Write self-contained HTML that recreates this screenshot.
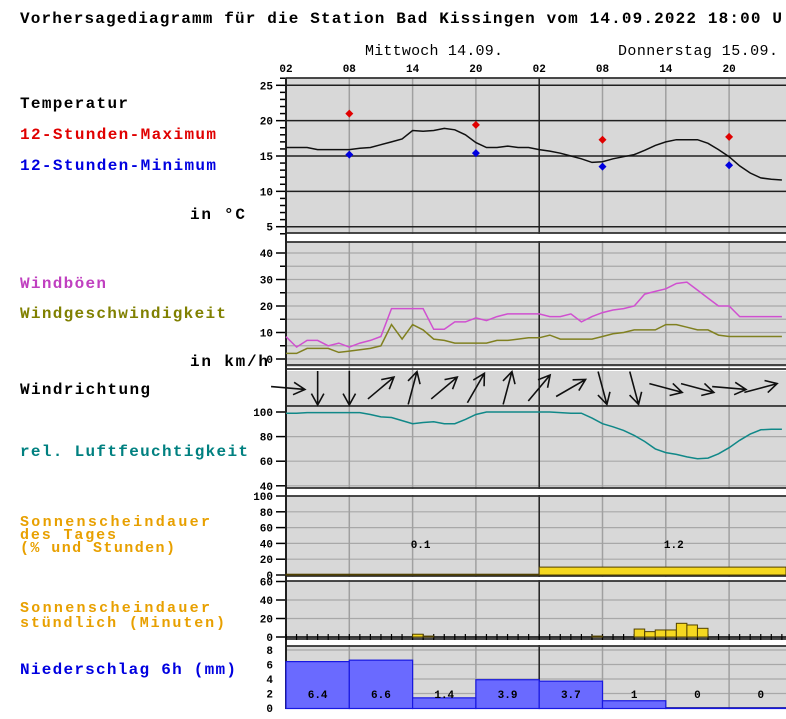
<!DOCTYPE html>
<html><head><meta charset="utf-8"><style>
html,body{margin:0;padding:0;background:#fff;}
svg{display:block;font-family:"Liberation Mono",monospace;}
</style></head><body>
<svg id="chart" width="786" height="719" viewBox="0 0 786 719" xmlns="http://www.w3.org/2000/svg">
<text x="20" y="23" font-size="16" font-weight="bold" textLength="762" lengthAdjust="spacing">Vorhersagediagramm für die Station Bad Kissingen vom 14.09.2022 18:00 U</text>
<text x="365" y="55" font-size="15" textLength="138" lengthAdjust="spacing">Mittwoch 14.09.</text>
<text x="618" y="55" font-size="15" textLength="160" lengthAdjust="spacing">Donnerstag 15.09.</text>
<g font-weight="bold" font-size="16">
<text x="20" y="108" textLength="108" lengthAdjust="spacing">Temperatur</text>
<text x="20" y="139" fill="#e00000" textLength="196" lengthAdjust="spacing">12-Stunden-Maximum</text>
<text x="20" y="170" fill="#0000e0" textLength="196" lengthAdjust="spacing">12-Stunden-Minimum</text>
<text x="190" y="219" textLength="55" lengthAdjust="spacing">in °C</text>
<text x="20" y="288" fill="#c040c0" textLength="86" lengthAdjust="spacing">Windböen</text>
<text x="20" y="318" fill="#808000" textLength="206" lengthAdjust="spacing">Windgeschwindigkeit</text>
<text x="190" y="366" textLength="78" lengthAdjust="spacing">in km/h</text>
<text x="20" y="394" textLength="130" lengthAdjust="spacing">Windrichtung</text>
<text x="20" y="456" fill="#008080" textLength="228" lengthAdjust="spacing">rel. Luftfeuchtigkeit</text>
<text x="20" y="674" fill="#0000e0" textLength="216" lengthAdjust="spacing">Niederschlag 6h (mm)</text>
</g>
<g font-weight="bold" font-size="15" fill="#e8a000">
<text x="20" y="526" textLength="190" lengthAdjust="spacing">Sonnenscheindauer</text>
<text x="20" y="539" textLength="96" lengthAdjust="spacing">des Tages</text>
<text x="20" y="552" textLength="155" lengthAdjust="spacing">(% und Stunden)</text>
<text x="20" y="612" textLength="190" lengthAdjust="spacing">Sonnenscheindauer</text>
<text x="20" y="627" textLength="205" lengthAdjust="spacing">stündlich (Minuten)</text>
</g>
<g id="plot"></g>
</svg>
<script>
const tempHourly=[16.2,16.2,16.2,15.9,15.9,15.9,15.9,16.1,16.2,16.6,17.0,17.4,18.6,18.5,18.6,18.9,18.7,18.0,16.9,16.2,16.2,16.4,16.2,16.2,15.9,15.7,15.4,15.0,14.6,14.1,14.2,14.6,14.9,15.2,15.8,16.5,17.0,17.3,17.3,17.3,16.8,15.9,14.9,13.6,12.6,11.9,11.7,11.6];
const maxHours=[6,18,30,42];
const maxTemps=[21.0,19.4,17.3,17.7];
const minTemps=[15.2,15.4,13.5,13.7];
const gustHourly=[8.4,4.5,7,7,5,6,4.5,6,7,8.5,19,19,19,19,11.2,11.2,14,14,15.5,14.5,16,17,17,17,17,16,16,17,14,16,17.5,18.5,19,20,24.5,25.5,26.5,28.5,29,26,23,20,20,16,16,16,16,16];
const windHourly=[2.1,2.1,4,4,4,2.5,3,3.5,4,5,13,7.5,13,11,7.5,7,6,6,6,6,7,7,7.5,8,8,9,7.5,7.5,7.5,7.5,8.5,9.5,10,11,11,11,13,13,12,11,11,9,8.5,8.5,8.5,8.5,8.5,8.5];
const dirHours=[0,3,6,9,12,15,18,21,24,27,30,33,36,39,42,45];
const dirDegrees=[95,180,180,50,15,50,30,15,40,60,165,165,105,105,95,75];
const humHourly=[99,99,99.5,99.5,99.5,99.5,99.5,99.5,98,96,95.5,93,90.5,91.5,92,90.5,90.5,94,98,100,100,100,100,100,100,100,99.5,99,99,95,90.5,88,85,81,76,70,67,65.5,63.5,62,62.5,66,71,77,82,85.5,86,86];
const sunDayPct=[1,10];
const sunDayHours=["0.1","1.2"];
const sunHourMin=[0,0,0,0,0,0,0,0,0,0,0,0,3,1,0,0,0,0,0,0,0,0,0,0,0,0,0,0,0,1,0,0,0,8.6,5.8,7.6,7.6,14.8,13,9.4,0,0,0,0,0,0,0,0];
const precipVals=[6.4,6.6,1.4,3.9,3.7,1,0,0];
const precipLabels=["6.4","6.6","1.4","3.9","3.7","1","0","0"];
const hourTickLabels=["02","08","14","20","02","08","14","20","0"];

const X0=286, HX=10.55, R=786;
const xH=h=>X0+h*HX;
const yT=t=>156-(t-15)*7.07;
const yW=v=>359-v*2.65;
const yR=r=>412+(100-r)*1.23;
const yS=p=>575-p*0.79;
const yM=m=>637-m*0.925;
const yP=p=>708-p*7.25;

const NS="http://www.w3.org/2000/svg";
const G=document.getElementById('plot');
function mk(tag,attrs){const e=document.createElementNS(NS,tag);for(const k in attrs)e.setAttribute(k,attrs[k]);G.appendChild(e);return e;}
function hline(y,c,w,name){const e=mk('line',{x1:X0,x2:R,y1:y,y2:y,stroke:c,'stroke-width':w});

return e;}
function lbl(x,y,t,name,anchor,size){const e=mk('text',{x:x,y:y,'font-size':size||11,'font-weight':'bold','text-anchor':anchor||'end'});e.textContent=t;

return e;}
function tick(y,len,name){const e=mk('line',{x1:X0-len,x2:X0,y1:y,y2:y,stroke:'#000','stroke-width':1.5});

}
function panel(y1,y2,name){const e=mk('rect',{x:X0,y:y1,width:R-X0,height:y2-y1,fill:'#d8d8d8'});

}

panel(78,233,'temperature-panel');
panel(242,367,'wind-panel');
panel(371,406,'wind-direction-panel');
panel(407,488,'humidity-panel');
panel(496,576,'daily-sun-panel');
panel(581,639,'hourly-sun-panel');
panel(646,709,'precip-panel');

for(let v=0;v<=40;v+=5) hline(yW(v),'#a8a8a8',1.2,'wind-gridline');
for(let r=40;r<=80;r+=20) hline(yR(r),'#a8a8a8',1.2,'humidity-gridline');
for(let p=20;p<=80;p+=20) hline(yS(p),'#a8a8a8',1.2,'daily-sun-gridline');
for(let m=20;m<=40;m+=20) hline(yM(m),'#a8a8a8',1.2,'hourly-sun-gridline');
for(let p=2;p<=8;p+=2) hline(yP(p),'#a8a8a8',1.2,'precip-gridline');

for(let h=6;h<=48;h+=6){ if(h===24)continue;
 const e=mk('line',{x1:xH(h),x2:xH(h),y1:78,y2:709,stroke:'#a0a0a0','stroke-width':1.5});
 
 
}
{const e=mk('line',{x1:xH(24),x2:xH(24),y1:78,y2:709,stroke:'#202020','stroke-width':1.5});
 
 }

[[234,241],[489,495],[577,580],[640,645]].forEach(g=>{const e=mk('rect',{x:X0,y:g[0],width:R-X0,height:g[1]-g[0],fill:'#fff'});
 
 });

[25,20,15,10,5].forEach(t=>hline(yT(t),'#202020',1.5,'temp-gridline'));
[78,233,242,365,369,406,488,496,576,581,639,646,708].forEach(y=>hline(y,'#303030',1.8,'panel-border'));

hourTickLabels.forEach((t,i)=>lbl(xH(i*6),72,t,'hour-label','middle',11));

for(let t=4;t<=26;t++){tick(yT(t),t%5===0?10:6,'temp-tick');}
[25,20,15,10,5].forEach(t=>lbl(273,yT(t)+4,String(t),'temp-tick-label'));
for(let v=0;v<=40;v+=5){tick(yW(v),v%10===0?10:6,'wind-tick');}
for(let v=0;v<=40;v+=10) lbl(273,yW(v)+4,String(v),'wind-tick-label');
for(let r=40;r<=100;r+=20){tick(yR(r),10,'humidity-tick');lbl(273,yR(r)+4,String(r),'humidity-tick-label');}
for(let p=0;p<=100;p+=20){tick(yS(p),10,'daily-sun-tick');lbl(273,yS(p)+4,String(p),'daily-sun-tick-label');}
for(let m=0;m<=60;m+=20){tick(yM(m),10,'hourly-sun-tick');lbl(273,yM(m)+4,String(m),'hourly-sun-tick-label');}
for(let p=0;p<=8;p+=2){lbl(273,yP(p)+4,String(p),'precip-tick-label');}
{const e=mk('line',{x1:X0,x2:X0,y1:78,y2:709,stroke:'#202020','stroke-width':2});
 
 }

function poly(vals,fy,color,name,w){const pts=vals.map((v,i)=>xH(i).toFixed(1)+','+fy(v).toFixed(1)).join(' ');
 const e=mk('polyline',{points:pts,fill:'none',stroke:color,'stroke-width':w||1.5});
 
 }
poly(tempHourly,yT,'#101010','temperature-line',1.5);
maxHours.forEach((h,i)=>{
 const a=mk('path',{d:`M${xH(h)},${yT(maxTemps[i])-4}l4,4l-4,4l-4,-4z`,fill:'#e00000'});
 
 
 const b=mk('path',{d:`M${xH(h)},${yT(minTemps[i])-4}l4,4l-4,4l-4,-4z`,fill:'#0000e0'});
 
 
});
poly(gustHourly,yW,'#d050d0','gust-line',1.5);
poly(windHourly,yW,'#808020','wind-speed-line',1.5);
poly(humHourly,yR,'#108888','humidity-line',1.5);

dirHours.forEach((h,i)=>{
 const cx=xH(h)+(i===0?2:0), cy=388, L=17, a=dirDegrees[i]*Math.PI/180;
 const dx=Math.sin(a)*L, dy=-Math.cos(a)*L;
 const tx=cx+dx, ty=cy+dy, sx=cx-dx, sy=cy-dy;
 const h1=a+Math.PI-0.5, h2=a+Math.PI+0.5, hl=13;
 const d=`M${sx},${sy}L${tx},${ty}M${tx+Math.sin(h1)*hl},${ty-Math.cos(h1)*hl}L${tx},${ty}L${tx+Math.sin(h2)*hl},${ty-Math.cos(h2)*hl}`;
 const e=mk('path',{d:d,fill:'none',stroke:'#101010','stroke-width':1.6});
 
 
});

sunDayPct.forEach((p,i)=>{
 const x1=xH(i*24), w=Math.min(xH(i*24+24),R)-x1;
 const e=mk('rect',{x:x1,y:yS(p),width:w,height:575-yS(p),fill:'#f5d820',stroke:'#504000','stroke-width':1});
 
 
 lbl(xH(i*24+12)+8,548,sunDayHours[i],'daily-sun-hours-label','middle',11);
});

for(let h=0;h<=48;h++){const e=mk('line',{x1:xH(h),x2:xH(h),y1:634,y2:640,stroke:'#000','stroke-width':1.2});
 
 }
hline(637,'#000',1.5,'hourly-sun-zero-line');
sunHourMin.forEach((m,h)=>{ if(m<=0)return;
 const e=mk('rect',{x:xH(h),y:yM(m),width:HX,height:637-yM(m),fill:'#f5d820',stroke:'#504000','stroke-width':1});
 
 
});

precipVals.forEach((p,i)=>{
 const x1=xH(i*6), w=Math.min(xH(i*6+6),R)-x1;
 const e=mk('rect',{x:x1,y:yP(p),width:w,height:708-yP(p)+0.5,fill:'#6a6aff',stroke:'#1818e0','stroke-width':1.2});
 
 
 lbl(xH(i*6+3),698,precipLabels[i],'precip-value-label','middle',11);
});
</script>
</body></html>
